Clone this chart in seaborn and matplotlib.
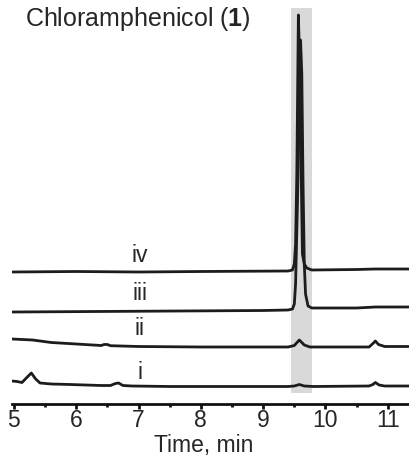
import matplotlib
matplotlib.use("Agg")
import matplotlib.pyplot as plt
import numpy as np
import pandas as pd
import seaborn as sns

# chromatogram traces (time in min, signal in arbitrary units)
t_i = [4.97, 5.05, 5.13, 5.2, 5.28, 5.35, 5.42, 5.6, 5.9, 6.4, 6.55, 6.63, 6.68, 6.75, 6.9, 7.5, 8.5,
       9.4, 9.5, 9.58, 9.66, 9.8, 10.7, 10.76, 10.8, 10.86, 10.95, 11.4]
s_i = [23, 22.5, 21.5, 26, 31, 25, 21, 20, 19.5, 18.5, 18.5, 20.5, 21, 18.5, 18, 17.5, 17.5,
       17.5, 18, 19.5, 18, 17.5, 18, 19.5, 21.5, 19, 18, 18]

t_ii = [4.97, 5.3, 5.6, 6.0, 6.4, 6.45, 6.5, 6.55, 7.0, 8.0, 9.4, 9.5, 9.58, 9.66, 9.75,
        10.7, 10.77, 10.8, 10.85, 10.95, 11.4]
s_ii = [65, 64, 61.5, 60, 58.5, 59.5, 59.5, 58.3, 57.5, 57, 57, 58.5, 64, 59, 57,
        57, 61, 63, 59.5, 57.5, 57.5]

t_iii = [4.97, 9.0, 9.4, 9.47, 9.5, 9.52, 9.55, 9.58, 9.6, 9.62, 9.64, 9.66, 9.68, 9.72, 9.78,
         10.5, 10.8, 11.4]
s_iii = [92, 93.5, 94, 95, 100, 120, 200, 300, 364, 330, 220, 140, 110, 98, 96,
         96, 97, 97]

t_iv = [4.97, 6.0, 7.0, 8.0, 9.4, 9.47, 9.5, 9.52, 9.54, 9.565, 9.59, 9.61, 9.63, 9.66, 9.7, 9.78,
        10.5, 10.8, 11.4]
s_iv = [132, 132.5, 132, 132.5, 133, 134, 140, 160, 230, 389, 330, 230, 150, 140, 136, 134,
        134.5, 135, 135]

trace_names = ["i", "ii", "iii", "iv"]
label_y = [25, 69, 104, 142]

band = (9.44, 9.78)

sns.set_style("ticks")
plt.rcParams["font.family"] = ["Liberation Sans", "DejaVu Sans"]
plt.rcParams["mathtext.fontset"] = "custom"
plt.rcParams["mathtext.rm"] = "Liberation Sans"
plt.rcParams["mathtext.bf"] = "Liberation Sans:bold"

fig = plt.figure(figsize=(4.09, 4.61), dpi=100)
ax = fig.add_axes([12 / 409, 57 / 461, 397 / 409, 404 / 461])

ax.fill_between(band, 11, 396, color="#d9d9d9", lw=0, zorder=0)

traces = [(t_i, s_i), (t_ii, s_ii), (t_iii, s_iii), (t_iv, s_iv)]
for name, (t, s) in zip(trace_names, traces):
    df = pd.DataFrame({"time": t, "signal": s})
    sns.lineplot(data=df, x="time", y="signal", ax=ax, color="#1c1c1c", lw=2.0, sort=False)

for name, y in zip(trace_names, label_y):
    ax.text(7.02, y, name, ha="center", va="baseline", fontsize=16.5)

ax.set_xlim(4.97, 11.34)
ax.set_ylim(0, 404)
ax.set_xticks([5, 6, 7, 8, 9, 10, 11])
ax.set_xticks(np.arange(5.5, 11.5, 1), minor=True)
ax.tick_params(axis="x", which="major", length=3.5, width=2, labelsize=16.5, pad=0, color="#111111")
ax.tick_params(axis="x", which="minor", length=2.5, width=2, color="#111111")
ax.set_yticks([])
ax.set_ylabel("")
ax.set_xlabel("Time, min", fontsize=16.5, va="center")
ax.xaxis.set_label_coords(0.5 - 7 / 397, -41 / 404)
sns.despine(ax=ax, left=True)
ax.spines["bottom"].set_linewidth(2)
ax.spines["bottom"].set_color("#111111")

fig.text(25 / 409, 1 - 26 / 461, r"Chloramphenicol ($\mathbf{1}$)", fontsize=18,
         va="baseline", ha="left")

fig.savefig("out.png", dpi=100)
